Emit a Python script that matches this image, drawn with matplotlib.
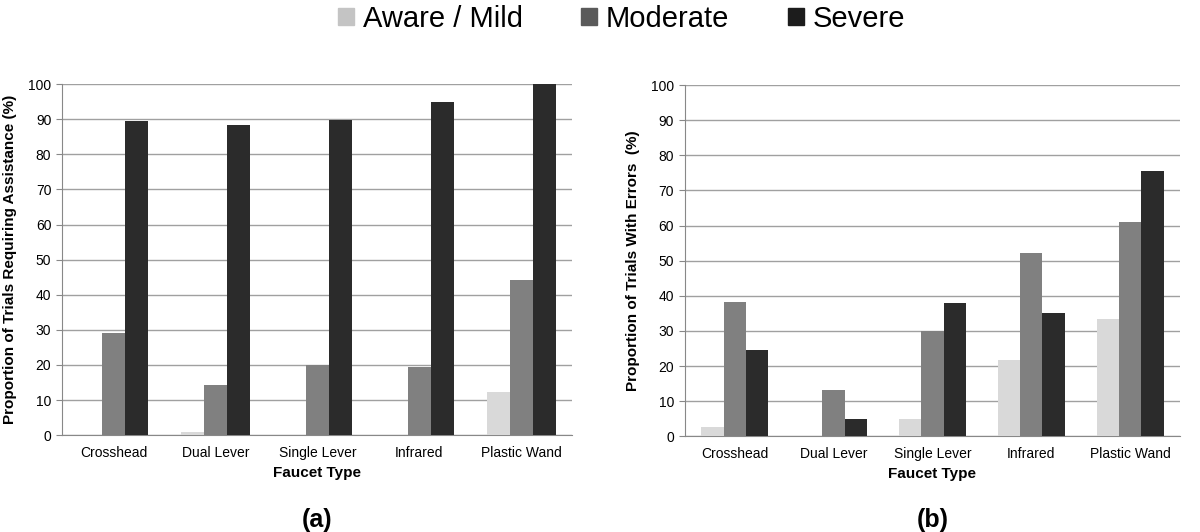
import matplotlib
matplotlib.use("Agg")
import matplotlib.pyplot as plt
import numpy as np

plt.rcParams['font.family'] = ['Liberation Sans', 'DejaVu Sans']

faucets = ["Crosshead", "Dual Lever", "Single Lever", "Infrared", "Plastic Wand"]
series = ["Aware / Mild", "Moderate", "Severe"]
colors = ["#d9d9d9", "#808080", "#2b2b2b"]

# (a) assistance
assist_mild = [0, 1.0, 0, 0, 12.2]
assist_moderate = [29.2, 14.3, 20.0, 19.3, 44.3]
assist_severe = [89.4, 88.2, 89.7, 95.0, 100.0]

# (b) errors
error_mild = [2.5, 0, 5.0, 21.8, 33.3]
error_moderate = [38.2, 13.3, 30.0, 52.3, 61.1]
error_severe = [24.5, 5.0, 37.9, 35.0, 75.4]

fig = plt.figure(figsize=(12, 5.32), dpi=100)
ax1 = fig.add_axes([0.052, 0.182, 0.425, 0.660])
ax2 = fig.add_axes([0.571, 0.180, 0.412, 0.660])

x = np.arange(len(faucets))
w = 0.225

def draw(ax, data, ylabel, tag):
    handles = []
    for i, vals in enumerate(data):
        h = ax.bar(x + (i - 1) * w, vals, w, color=colors[i], zorder=3, label=series[i])
        handles.append(h)
    ax.set_ylim(0, 100)
    ax.set_xlim(-0.5, len(faucets) - 0.5)
    ax.set_yticks(np.arange(0, 101, 10))
    ax.set_xticks(x)
    ax.set_xticklabels(faucets, fontsize=10)
    ax.tick_params(axis='y', labelsize=10, length=4, color='#888888', pad=4)
    ax.tick_params(axis='x', length=0, pad=8)
    ax.yaxis.grid(True, color='#a0a0a0', linewidth=1, zorder=0)
    for s in ['top', 'right']:
        ax.spines[s].set_visible(False)
    for s in ['left', 'bottom']:
        ax.spines[s].set_color('#888888')
    ax.set_ylabel(ylabel, fontsize=11, fontweight='bold', labelpad=8)
    ax.set_xlabel("Faucet Type", fontsize=11, fontweight='bold', labelpad=4)
    pos = ax.get_position()
    fig.text((pos.x0 + pos.x1) / 2, 0.022, tag, ha='center', va='center',
             fontsize=18, fontweight='bold')
    return handles

handles = draw(ax1, [assist_mild, assist_moderate, assist_severe],
               "Proportion of Trials Requiring Assistance (%)", "(a)")
draw(ax2, [error_mild, error_moderate, error_severe],
     "Proportion of Trials With Errors  (%)", "(b)")

leg = fig.legend(handles, series, loc='upper center', bbox_to_anchor=(0.518, 1.04), ncol=3,
                 frameon=False, handlelength=0.55, handleheight=0.55,
                 handletextpad=0.3, columnspacing=2.0, fontsize=21)
for p, c in zip(leg.legend_handles, ["#c4c4c4", "#5a5a5a", "#1c1c1c"]):
    p.set_color(c)

fig.savefig("out.png", dpi=100)
